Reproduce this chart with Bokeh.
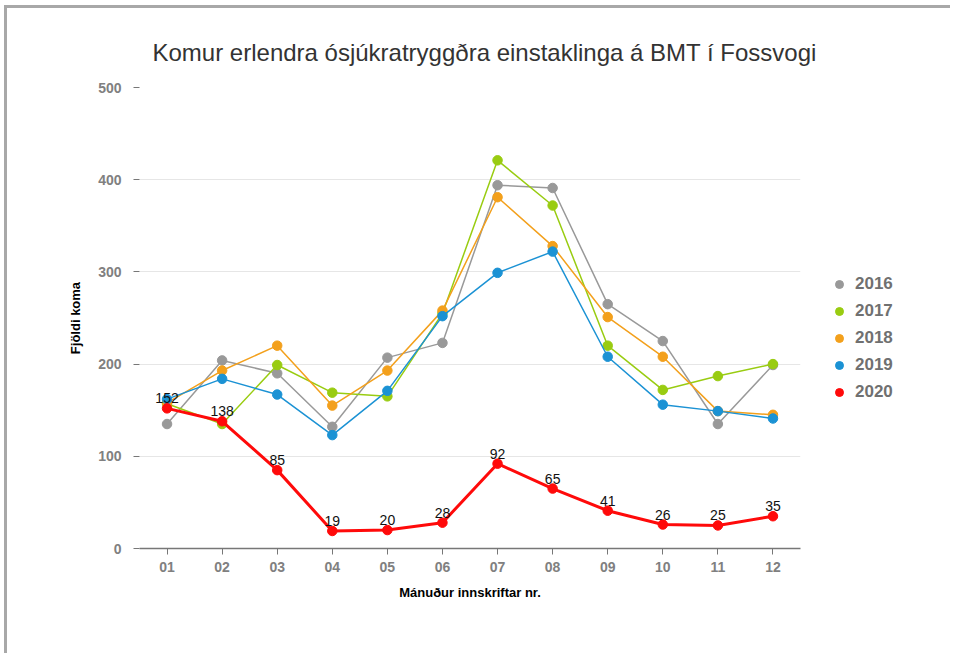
from bokeh.plotting import figure
from bokeh.layouts import row
from bokeh.models import ColumnDataSource, Legend, LegendItem, Range1d, FixedTicker, Title
from bokeh.core.properties import value
from bokeh.embed import file_html
from bokeh.resources import INLINE

months = ["01", "02", "03", "04", "05", "06", "07", "08", "09", "10", "11", "12"]
y2016 = [135, 204, 190, 132, 207, 223, 394, 391, 265, 225, 135, 199]
y2017 = [157, 135, 199, 169, 165, 255, 421, 372, 220, 172, 187, 200]
y2018 = [158, 193, 220, 155, 193, 258, 381, 328, 251, 208, 149, 145]
y2019 = [162, 184, 167, 123, 171, 252, 299, 322, 208, 156, 149, 141]
y2020 = [152, 138, 85, 19, 20, 28, 92, 65, 41, 26, 25, 35]
years = ["2016", "2017", "2018", "2019", "2020"]
colors = ["#999999", "#99cc11", "#f3a01c", "#1b92d4", "#ff0a0a"]
series = [y2016, y2017, y2018, y2019, y2020]
yticks = [0, 100, 200, 300, 400, 500]

FONT = "Liberation Sans"
H = 645
TOP = 79
BOTTOM = 105

p = figure(width=818, height=H, x_range=months, y_range=Range1d(0, 500),
           output_backend="svg", toolbar_location=None,
           min_border_left=132, min_border_right=25, min_border_top=TOP, min_border_bottom=BOTTOM)

p.outline_line_color = None
p.background_fill_color = "white"
p.border_fill_color = "white"

p.xgrid.grid_line_color = None
p.ygrid.grid_line_color = "#e6e6e6"
p.ygrid.grid_line_width = 1

p.yaxis.ticker = FixedTicker(ticks=yticks)
p.yaxis.axis_line_color = None
p.yaxis.major_tick_line_color = "#777777"
p.yaxis.major_tick_out = 6
p.yaxis.major_tick_in = 0
p.yaxis.minor_tick_line_color = None
p.yaxis.major_label_text_font = FONT
p.yaxis.major_label_text_font_style = "bold"
p.yaxis.major_label_text_font_size = "14px"
p.yaxis.major_label_text_color = "#808080"
p.yaxis.major_label_standoff = 12
p.yaxis.axis_label = "Fjöldi koma"
p.yaxis.axis_label_text_font = FONT
p.yaxis.axis_label_text_font_style = "bold"
p.yaxis.axis_label_text_font_size = "13px"
p.yaxis.axis_label_text_color = "black"
p.yaxis.axis_label_standoff = 12

p.xaxis.axis_line_color = "#777777"
p.xaxis.axis_line_width = 1.5
p.xaxis.major_tick_line_color = "#777777"
p.xaxis.major_tick_out = 6
p.xaxis.major_tick_in = 0
p.xaxis.major_label_text_font = FONT
p.xaxis.major_label_text_font_style = "bold"
p.xaxis.major_label_text_font_size = "14px"
p.xaxis.major_label_text_color = "#808080"
p.xaxis.major_label_standoff = 7
p.xaxis.axis_label = "Mánuður innskriftar nr."
p.xaxis.axis_label_text_font = FONT
p.xaxis.axis_label_text_font_style = "bold"
p.xaxis.axis_label_text_font_size = "13px"
p.xaxis.axis_label_text_color = "black"
p.xaxis.axis_label_standoff = 10

p.title = Title(text="Komur erlendra ósjúkratryggðra einstaklinga á BMT í Fossvogi",
                text_font=FONT, text_font_size="24px", text_font_style="normal",
                text_color="#333333", align="left", offset=13, standoff=43)

for yr, col, vals in zip(years, colors, series):
    src = ColumnDataSource(dict(x=months, y=vals, lab=[str(v) for v in vals]))
    lw = 3 if yr == "2020" else 1.5
    p.line("x", "y", source=src, line_color=col, line_width=lw)
    p.scatter("x", "y", source=src, size=9.5, fill_color=col, line_color=col, line_width=1)
    if yr == "2020":
        p.text("x", "y", text="lab", source=src, text_font=value(FONT), text_font_size="14px",
               text_color="#111111", text_align="center", text_baseline="bottom", y_offset=-5)

# legend panel (separate canvas to the right of the plot frame)
lf = figure(width=125, height=H, x_range=Range1d(0, 1), y_range=Range1d(0, 1),
            x_axis_type=None, y_axis_type=None, output_backend="svg", toolbar_location=None,
            min_border_left=0, min_border_right=0, min_border_top=TOP, min_border_bottom=BOTTOM)
lf.outline_line_color = None
lf.grid.visible = False
lf.border_fill_color = "white"
items = []
for yr, col in zip(years, colors):
    # legend proxy glyph, kept outside the visible range
    r = lf.scatter(x=[-5], y=[-5], marker="circle", size=11, fill_color=col, line_color=col)
    items.append(LegendItem(label=yr, renderers=[r]))
legend = Legend(items=items, location=(4, 146), orientation="vertical",
                glyph_width=20, glyph_height=20, label_height=20, spacing=7,
                padding=0, margin=0, label_standoff=6,
                label_text_font=FONT, label_text_font_style="bold",
                label_text_font_size="17px", label_text_color="#707070",
                border_line_color=None, background_fill_alpha=0)
lf.add_layout(legend, "center")

layout = row(p, lf, spacing=0)
layout.styles = {"margin-left": "4px", "margin-top": "5px",
                 "border-left": "3px solid #a8a8a8", "border-top": "3px solid #a8a8a8"}

open("out.html", "w").write(file_html(layout, INLINE))
